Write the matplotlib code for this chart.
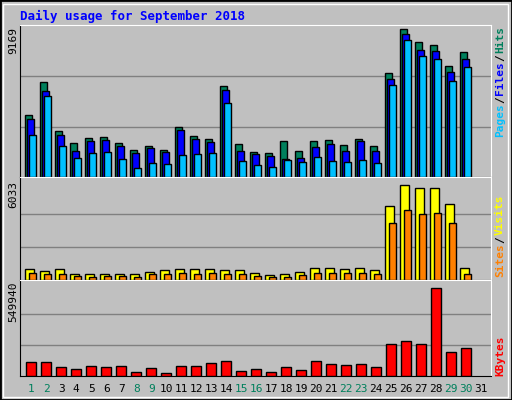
import matplotlib
matplotlib.use("Agg")
import matplotlib.pyplot as plt
from matplotlib.patches import Rectangle

days = list(range(1, 32))
weekend = [1, 2, 8, 9, 15, 16, 22, 23, 29, 30]

hits = [3736, 5743, 2762, 2032, 2336, 2397, 2032, 1667, 1850, 1667, 3005, 2458, 2275, 5500, 1971,
        1545, 1484, 2154, 1606, 2154, 2215, 1910, 2275, 1850, 6291, 8968, 8177, 7994, 6717, 7568]
files = [3492, 5196, 2519, 1606, 2154, 2215, 1850, 1484, 1728, 1545, 2823, 2275, 2093, 5257, 1606,
         1424, 1302, 1119, 1180, 1789, 1971, 1606, 2154, 1606, 5926, 8664, 7690, 7629, 6352, 7143]
pages = [2519, 4892, 1850, 1180, 1484, 1545, 1119, 572, 876, 815, 1363, 1424, 1484, 4466, 998,
         754, 633, 1059, 937, 1241, 998, 937, 1059, 876, 5561, 8299, 7325, 7143, 5804, 6656]
visits = [691, 565, 691, 377, 377, 377, 377, 377, 503, 628, 691, 691, 691, 628, 628,
          440, 314, 377, 503, 754, 754, 691, 754, 628, 4523, 5779, 5591, 5591, 4649, 754]
sites = [440, 377, 377, 251, 188, 251, 251, 188, 377, 377, 440, 377, 440, 377, 377,
         251, 188, 188, 314, 440, 440, 440, 440, 377, 3455, 4272, 4020, 4083, 3455, 377]
kbytes = [81044, 81044, 52099, 40522, 57888, 52099, 57888, 23155, 46310, 17366, 57888, 57888, 75254,
          86832, 28944, 40522, 23155, 52099, 34733, 86832, 69466, 63677, 69466, 52099, 191030,
          208397, 191030, 526781, 144720, 167875]
max_hits = 9169
max_visits = 6033
max_kb = 549940

W, H = 512, 400
bg = "#C0C0C0"
fig = plt.figure(figsize=(W / 100, H / 100), dpi=100, facecolor=bg)

# outer frame and bevel
fig.add_artist(Rectangle((0, 0), 1, 1, transform=fig.transFigure, fill=False, ec="black", lw=2))
fig.add_artist(Rectangle((3 / W, 3 / H), 505 / W, 393 / H, transform=fig.transFigure,
                         fill=False, ec="white", lw=1))

mono = "DejaVu Sans Mono"
fig.text(20 / W, 1 - 16 / H, "Daily usage for September 2018", color="#0000FF",
         fontsize=9, fontweight="bold", family=mono, va="center")


def panel(top, bottom):
    ax = fig.add_axes([20 / W, 1 - bottom / H, 471 / W, (bottom - top) / H])
    ax.set_facecolor(bg)
    ax.set_xlim(0, 471)
    ax.set_xticks([])
    ax.set_yticks([])
    for s in ("left", "bottom"):
        ax.spines[s].set_color("black")
    for s in ("top", "right"):
        ax.spines[s].set_color("white")
    return ax


def bars(ax, vals, off, width, color):
    xs = [5.3 + 15 * i + off for i in range(len(vals))]
    ax.bar(xs, vals, width=width, align="edge", color=color, edgecolor="black", lw=1, zorder=3)


# top panel: hits / files / pages
ax1 = panel(25, 177)
ax1.set_ylim(0, max_hits * 1.005)
for g in (1 / 3, 2 / 3):
    ax1.axhline(max_hits * g, color="#808080", lw=1, zorder=1)
bars(ax1, hits, 0, 7, "#00805C")
bars(ax1, files, 2, 7, "#0000FF")
bars(ax1, pages, 4, 7, "#00C0FF")

# middle panel: visits / sites
ax2 = panel(177, 280)
ax2.set_ylim(0, max_visits * 1.04)
for g in (1 / 3, 2 / 3):
    ax2.axhline(max_visits * g, color="#808080", lw=1, zorder=1)
bars(ax2, visits, 0, 9, "#FFFF00")
bars(ax2, sites, 4, 7, "#FF8000")

# bottom panel: kbytes
ax3 = panel(280, 376)
ax3.set_ylim(0, max_kb * 1.04)
for g in (1 / 3, 2 / 3):
    ax3.axhline(max_kb * g, color="#808080", lw=1, zorder=1)
bars(ax3, kbytes, 1, 10, "#FF0000")

# max labels
lab = dict(rotation=90, fontsize=8, family=mono, va="top", ha="center", color="black")
fig.text(13 / W, 1 - 27 / H, str(max_hits), **lab)
fig.text(13 / W, 1 - 181 / H, str(max_visits), **lab)
fig.text(13 / W, 1 - 282 / H, str(max_kb), **lab)

# right legends
rl = dict(rotation=90, fontsize=8, family=mono, fontweight="bold", ha="center", va="bottom")
fig.text(500 / W, 1 - 137 / H, "Pages", color="#00C0FF", **rl)
fig.text(500 / W, 1 - 103 / H, "/", color="black", **rl)
fig.text(500 / W, 1 - 95 / H, "Files", color="#0000FF", **rl)
fig.text(500 / W, 1 - 61 / H, "/", color="black", **rl)
fig.text(500 / W, 1 - 53 / H, "Hits", color="#00805C", **rl)
fig.text(500 / W, 1 - 277 / H, "Sites", color="#FF8000", **rl)
fig.text(500 / W, 1 - 243 / H, "/", color="black", **rl)
fig.text(500 / W, 1 - 235 / H, "Visits", color="#FFFF00", **rl)
fig.text(500 / W, 1 - 376 / H, "KBytes", color="#FF0000", **rl)

# day labels
for i, d in enumerate(days):
    c = "#00805C" if d in weekend else "black"
    fig.text((20 + 5.3 + 15 * i + 6) / W, 1 - 389 / H, str(d), color=c, fontsize=8,
             family=mono, ha="center", va="center")

fig.savefig("out.png", dpi=100, facecolor=bg)
